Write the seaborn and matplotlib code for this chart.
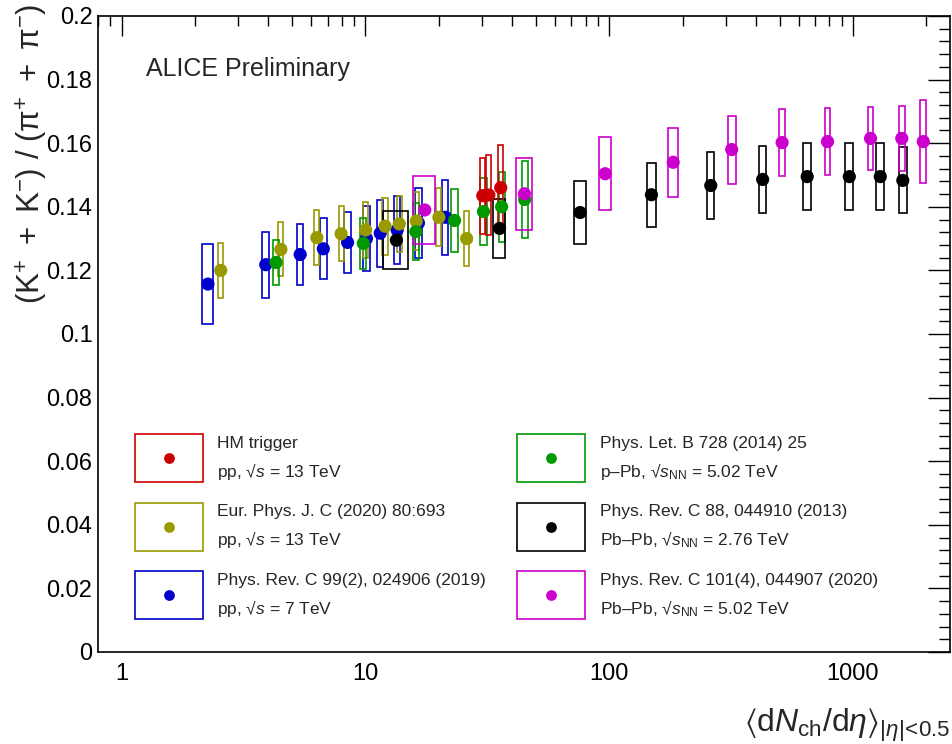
import numpy as np
import pandas as pd
import seaborn as sns
import matplotlib
matplotlib.use("Agg")
import matplotlib.pyplot as plt
from matplotlib.patches import Rectangle
from matplotlib import ticker

# ---------------- data ----------------
# HM trigger, pp 13 TeV
hm_x = [30.3, 32.1, 35.9]
hm_xerr = [0.7, 0.75, 0.85]
hm_y = [0.1435, 0.1437, 0.1460]
hm_sys = [0.0120, 0.0125, 0.0135]

# Eur. Phys. J. C (2020) 80:693, pp 13 TeV
pp13_x = [2.55, 4.50, 6.32, 7.95, 10.02, 12.04, 13.77, 16.17, 20.02, 26.02]
pp13_xerr = [0.06, 0.11, 0.15, 0.19, 0.24, 0.29, 0.33, 0.39, 0.48, 0.62]
pp13_y = [0.1200, 0.1266, 0.1303, 0.1315, 0.1327, 0.1339, 0.1346, 0.1355, 0.1367, 0.1300]
pp13_sys = [0.0087, 0.0085, 0.0086, 0.0086, 0.0088, 0.0089, 0.0089, 0.0091, 0.0091, 0.0087]

# Phys. Rev. C 99(2), 024906 (2019), pp 7 TeV
pp7_x = [2.26, 3.90, 5.40, 6.72, 8.45, 10.1, 11.5, 13.5, 16.5, 21.3]
pp7_xerr = [0.12, 0.14, 0.17, 0.21, 0.25, 0.3, 0.3, 0.4, 0.5, 0.6]
pp7_y = [0.1157, 0.1218, 0.1250, 0.1268, 0.1288, 0.1300, 0.1317, 0.1327, 0.1349, 0.1367]
pp7_sys = [0.0126, 0.0104, 0.0096, 0.0096, 0.0097, 0.0103, 0.0105, 0.0107, 0.0110, 0.0118]

# Phys. Let. B 728 (2014) 25, p-Pb 5.02 TeV
ppb_x = [4.3, 9.8, 16.1, 23.2, 30.5, 36.2, 45.0]
ppb_xerr = [0.13, 0.28, 0.47, 0.67, 0.9, 1.05, 1.3]
ppb_y = [0.1225, 0.1285, 0.1322, 0.1357, 0.1385, 0.1400, 0.1423]
ppb_sys = [0.0070, 0.0080, 0.0090, 0.0100, 0.0105, 0.0110, 0.0120]

# Phys. Rev. C 88, 044910 (2013), Pb-Pb 2.76 TeV
pb276_x = [13.4, 35.5, 76, 149, 261, 426, 649, 966, 1294, 1601]
pb276_xerr = [1.6, 2, 4, 6, 9, 15, 23, 37, 49, 60]
pb276_y = [0.1295, 0.1332, 0.1382, 0.1438, 0.1467, 0.1486, 0.1495, 0.1495, 0.1495, 0.1483]
pb276_sys = [0.0091, 0.0093, 0.0098, 0.0100, 0.0104, 0.0105, 0.0105, 0.0105, 0.0105, 0.0104]

# Phys. Rev. C 101(4), 044907 (2020), Pb-Pb 5.02 TeV
pb502_x = [17.52, 44.9, 96.3, 183, 318, 512, 786, 1180, 1585.5, 1942.5]
pb502_xerr = [1.84, 3.4, 5.8, 8, 12, 15, 20, 31, 46, 53.5]
pb502_y = [0.1390, 0.1441, 0.1504, 0.1540, 0.1580, 0.1602, 0.1605, 0.1615, 0.1615, 0.1605]
pb502_sys = [0.0107, 0.0113, 0.0115, 0.0108, 0.0107, 0.0106, 0.0105, 0.0100, 0.0101, 0.0131]

legend_line1 = ["HM trigger", "Eur. Phys. J. C (2020) 80:693", "Phys. Rev. C 99(2), 024906 (2019)",
                "Phys. Let. B 728 (2014) 25", "Phys. Rev. C 88, 044910 (2013)",
                "Phys. Rev. C 101(4), 044907 (2020)"]
legend_line2 = ["pp, \u221a$s$ = 13 TeV", "pp, \u221a$s$ = 13 TeV", "pp, \u221a$s$ = 7 TeV",
                "p\u2013Pb, \u221a$s_{\\mathrm{NN}}$ = 5.02 TeV",
                "Pb\u2013Pb, \u221a$s_{\\mathrm{NN}}$ = 2.76 TeV",
                "Pb\u2013Pb, \u221a$s_{\\mathrm{NN}}$ = 5.02 TeV"]

# ---------------- styling ----------------
sns.set_style("white")
plt.rcParams["font.family"] = ["Liberation Sans", "DejaVu Sans"]
plt.rcParams["mathtext.fontset"] = "custom"
plt.rcParams["mathtext.rm"] = "Liberation Sans"
plt.rcParams["mathtext.it"] = "Liberation Sans:italic"
plt.rcParams["mathtext.bf"] = "Liberation Sans:bold"
plt.rcParams["mathtext.fallback"] = "stixsans"

colors = {"hm": "#cc0000", "pp13": "#999900", "pp7": "#0000cc",
          "ppb": "#009900", "pb276": "#000000", "pb502": "#cc00cc"}

series = {
    "pp7": (pp7_x, pp7_xerr, pp7_y, pp7_sys),
    "pp13": (pp13_x, pp13_xerr, pp13_y, pp13_sys),
    "ppb": (ppb_x, ppb_xerr, ppb_y, ppb_sys),
    "pb276": (pb276_x, pb276_xerr, pb276_y, pb276_sys),
    "pb502": (pb502_x, pb502_xerr, pb502_y, pb502_sys),
    "hm": (hm_x, hm_xerr, hm_y, hm_sys),
}

frames = []
for key, (x, xe, y, sy) in series.items():
    frames.append(pd.DataFrame({"x": x, "xerr": xe, "y": y, "sys": sy, "dataset": key}))
df = pd.concat(frames, ignore_index=True)

fig = plt.figure(figsize=(9.53, 7.44), dpi=100)
ax = fig.add_axes([98 / 953, 92 / 744, 852 / 953, 636 / 744])
ax.set_xscale("log")

# systematic boxes
for _, r in df.iterrows():
    ax.add_patch(Rectangle((r.x - r.xerr, r.y - r.sys), 2 * r.xerr, 2 * r.sys,
                           fill=False, edgecolor=colors[r.dataset], lw=1.2, zorder=2))

sns.scatterplot(data=df, x="x", y="y", hue="dataset", palette=colors, s=90,
                linewidth=0, legend=False, ax=ax, zorder=3)

ax.set_xlim(0.8, 2500)
ax.set_ylim(0, 0.2)
ax.set_xlabel("")
ax.set_ylabel("")

ax.xaxis.set_major_locator(ticker.LogLocator(base=10, numticks=10))
ax.xaxis.set_minor_locator(ticker.LogLocator(base=10, subs=np.arange(2, 10), numticks=20))
ax.xaxis.set_major_formatter(ticker.FuncFormatter(lambda v, p: f"{v:g}"))
ax.xaxis.set_minor_formatter(ticker.NullFormatter())
ax.yaxis.set_major_locator(ticker.MultipleLocator(0.02))
ax.yaxis.set_minor_locator(ticker.MultipleLocator(0.004))
ax.yaxis.set_major_formatter(ticker.FuncFormatter(lambda v, p: f"{v:g}"))

ax.tick_params(axis="both", which="both", direction="in", top=True, right=True,
               width=1.0, labelsize=17, colors="black")
ax.tick_params(axis="x", which="major", length=14.5, pad=8)
ax.tick_params(axis="x", which="minor", length=7.5)
ax.tick_params(axis="y", which="major", length=16, pad=4)
ax.tick_params(axis="y", which="minor", length=8)
for sp in ax.spines.values():
    sp.set_linewidth(1.2)
    sp.set_color("black")

# axis titles
fig.text(0.033, 1 - 4 / 744,
         r"$(\mathrm{K}^{+}\ +\ \mathrm{K}^{-})\ /\ (\mathrm{π}^{+}\ +\ \mathrm{π}^{-})$",
         rotation=90, ha="center", va="top", fontsize=22.5)
fig.text(950 / 953, 12 / 744,
         r"$\langle\mathrm{d}N_{\mathrm{ch}}/\mathrm{d}\eta\rangle_{|\eta|\!<\!0.5}$",
         ha="right", va="baseline", fontsize=23)

ax.text(0.056, 0.906, "ALICE Preliminary", transform=ax.transAxes,
        fontsize=18, ha="left", va="baseline")

# legend (manual, ROOT-style boxes)
leg_keys = ["hm", "pp13", "pp7", "ppb", "pb276", "pb502"]
box_x = [0.0434, 0.0434, 0.0434, 0.4918, 0.4918, 0.4918]
box_y = [0.2673, 0.1588, 0.0519, 0.2673, 0.1588, 0.0519]
text_x = [0.1397, 0.1397, 0.1397, 0.5892, 0.5892, 0.5892]
l1_y = [0.321, 0.214, 0.106, 0.321, 0.214, 0.106]
l2_y = [0.275, 0.168, 0.060, 0.275, 0.168, 0.060]
bw, bh = 0.0798, 0.0755
for i, k in enumerate(leg_keys):
    ax.add_patch(Rectangle((box_x[i], box_y[i]), bw, bh, transform=ax.transAxes,
                           fill=False, edgecolor=colors[k], lw=1.2, zorder=4))
    ax.scatter([box_x[i] + bw / 2], [box_y[i] + bh / 2], transform=ax.transAxes,
               s=60, color=colors[k], linewidths=0, zorder=5)
    ax.text(text_x[i], l1_y[i], legend_line1[i], transform=ax.transAxes,
            fontsize=12.5, ha="left", va="baseline")
    ax.text(text_x[i], l2_y[i], legend_line2[i], transform=ax.transAxes,
            fontsize=12.5, ha="left", va="baseline")

fig.savefig("out.png", dpi=100, facecolor="white")
